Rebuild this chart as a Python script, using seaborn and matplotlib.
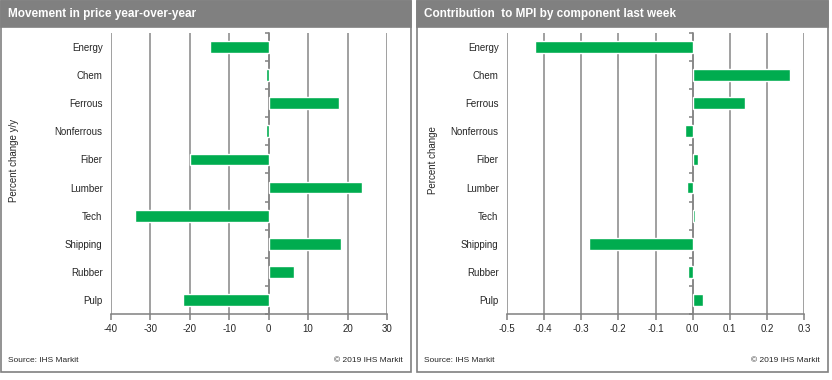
import numpy as np
import pandas as pd
import seaborn as sns
import matplotlib.pyplot as plt
from matplotlib.patches import Rectangle

categories = ["Energy", "Chem", "Ferrous", "Nonferrous", "Fiber",
              "Lumber", "Tech", "Shipping", "Rubber", "Pulp"]
yoy_change = [-14.8, -0.6, 17.9, -0.8, -20.0, 23.7, -34.0, 18.4, 6.5, -21.8]
contribution = [-0.424, 0.263, 0.142, -0.020, 0.015, -0.014, 0.007, -0.279, -0.012, 0.029]

left_title = "Movement in price year-over-year"
right_title = "Contribution  to MPI by component last week"
left_ylabel = "Percent change y/y"
right_ylabel = "Percent change"
left_ticks = [-40, -30, -20, -10, 0, 10, 20, 30]
right_ticks = [-0.5, -0.4, -0.3, -0.2, -0.1, 0.0, 0.1, 0.2, 0.3]

GREEN = "#00AC4F"
GRAY = "#808080"
TEXT = "#262626"

sns.set_theme(style="white")
plt.rcParams['font.family'] = ['Liberation Sans', 'DejaVu Sans']

W, H = 832, 380
fig = plt.figure(figsize=(W / 100, H / 100), dpi=100)


def px(x0, y0, x1, y1):
    # pixel box -> figure fraction [left, bottom, width, height]
    return [x0 / W, 1 - y1 / H, (x1 - x0) / W, (y1 - y0) / H]


def panel(x0, x1, title):
    l, b, w, h = px(x0, 1, x1, 372)
    fig.patches.append(Rectangle((l, b), w, h, transform=fig.transFigure,
                                 fill=False, edgecolor=GRAY, lw=1.2))
    l, b, w, h = px(x0, 1, x1, 27)
    fig.patches.append(Rectangle((l, b), w, h, transform=fig.transFigure,
                                 facecolor=GRAY, edgecolor=GRAY, lw=1.2))
    fig.text((x0 + 7) / W, 1 - 13.5 / H, title, color="white",
             fontsize=8.5, fontweight="bold", va="center", ha="left")
    fig.text((x0 + 7) / W, 1 - 360 / H, "Source: IHS Markit", color=TEXT,
             fontsize=6, va="center", ha="left")
    fig.text((x1 - 8) / W, 1 - 360 / H, "\u00a9 2019 IHS Markit", color=TEXT,
             fontsize=6, va="center", ha="right")


def bar_chart(box, values, ticks, fmt, ylabel, ylabel_x):
    ax = fig.add_axes(px(*box))
    df = pd.DataFrame({"cat": categories, "val": values})
    sns.barplot(data=df, x="val", y="cat", orient="h", color=GREEN,
                width=0.42, saturation=1, ax=ax)
    ax.set_xlim(ticks[0], ticks[-1])
    ax.set_xticks(ticks)
    ax.set_xticklabels([fmt.format(t) for t in ticks])
    ax.set_ylim(len(categories) - 0.5, -0.5)
    ax.set_xlabel("")
    ax.set_ylabel("")
    ax.grid(axis="x", color="#868686", lw=1.1)
    ax.set_axisbelow(True)
    for s in ["top", "right", "left"]:
        ax.spines[s].set_visible(False)
    ax.spines["bottom"].set_color(GRAY)
    ax.spines["bottom"].set_linewidth(1.1)
    ax.tick_params(axis="x", direction="out", length=4, width=1.1,
                   color=GRAY, labelsize=7, labelcolor=TEXT, pad=3, bottom=True)
    ax.tick_params(axis="y", length=0, labelsize=7, labelcolor=TEXT, pad=6)

    # value axis crossing at zero with ticks between categories
    zero = (0 - ticks[0]) / (ticks[-1] - ticks[0])
    sec = ax.secondary_yaxis(zero)
    sec.set_yticks(np.arange(len(categories) + 1) - 0.5)
    sec.set_yticklabels([])
    sec.tick_params(axis="y", direction="in", length=3, width=1.1, color=GRAY)
    for s in ["top", "right", "bottom", "left"]:
        sec.spines[s].set_color(GRAY)
        sec.spines[s].set_linewidth(1.1)

    fig.text(ylabel_x / W, 1 - 160 / H, ylabel, rotation=90, fontsize=7,
             color=TEXT, va="center", ha="center")
    return ax


panel(1, 411, left_title)
panel(417, 828, right_title)

bar_chart((111, 33, 387, 314), yoy_change, left_ticks, "{:d}", left_ylabel, 14)
bar_chart((507, 33, 804, 314), contribution, right_ticks, "{:.1f}", right_ylabel, 433)

plt.savefig("out.png", dpi=100)
print("saved out.png")
